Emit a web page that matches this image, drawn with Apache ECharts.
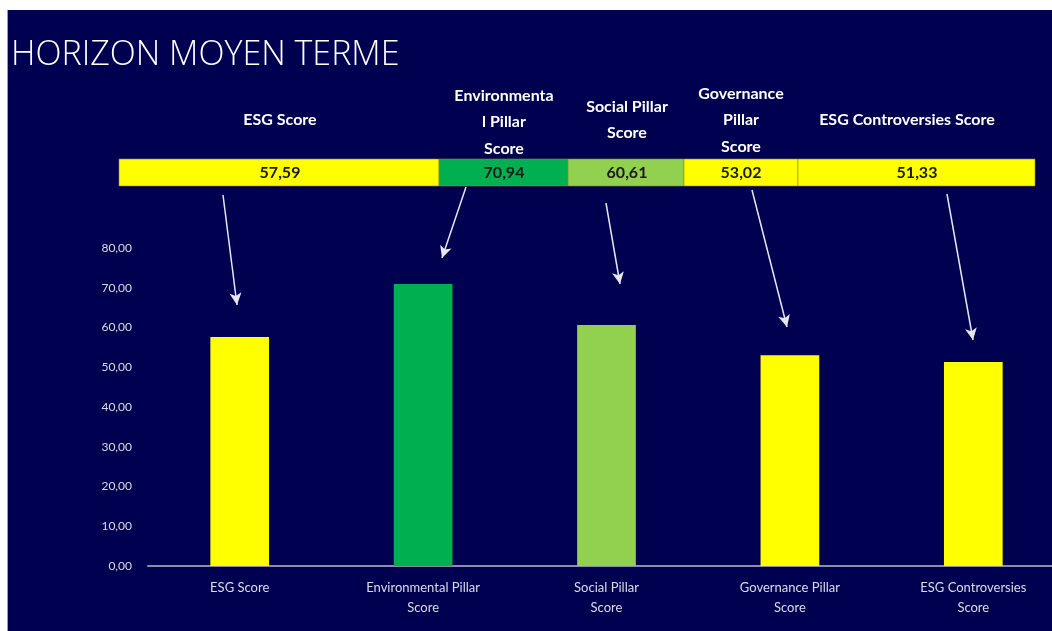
<!DOCTYPE html>
<html>
<head>
<meta charset="utf-8">
<script src="https://cdn.jsdelivr.net/npm/echarts@6/dist/echarts.min.js"></script>
<style>
  html, body { margin: 0; padding: 0; background: #fff; }
  #bg { position: absolute; left: 7px; top: 10px; width: 1045px; height: 621px; background: #000050; border-left: 1px solid #9a9ab0; }
  #main { position: absolute; left: 0; top: 0; width: 1052px; height: 631px; }
</style>
</head>
<body>
<div id="bg"></div>
<div id="main"></div>
<script>
// données
const categories = ['ESG Score', 'Environmental Pillar Score', 'Social Pillar Score', 'Governance Pillar Score', 'ESG Controversies Score'];
const axisLabels = ['ESG Score', 'Environmental Pillar\nScore', 'Social Pillar\nScore', 'Governance Pillar\nScore', 'ESG Controversies\nScore'];
const headerLabels = ['ESG Score', 'Environmenta\nl Pillar\nScore', 'Social Pillar\nScore', 'Governance\nPillar\nScore', 'ESG Controversies Score'];
const values = [57.59, 70.94, 60.61, 53.02, 51.33];
const barColors = ['#FFFF00', '#00B050', '#92D050', '#FFFF00', '#FFFF00'];
const yTicks = [0, 10, 20, 30, 40, 50, 60, 70, 80];

const fmt = v => v.toFixed(2).replace('.', ',');

// tableau du haut (bandeau coloré)
const cells = [
  { x0: 119, x1: 439, hx: 280, hy: 120, vx: 280 },
  { x0: 439, x1: 568, hx: 504, hy: 122, vx: 504 },
  { x0: 568, x1: 684, hx: 627, hy: 120, vx: 627 },
  { x0: 684, x1: 798, hx: 741, hy: 120, vx: 741 },
  { x0: 798, x1: 1035, hx: 907, hy: 120, vx: 917 }
];
const graphics = [{
  type: 'text', left: 11, top: 38,
  style: { text: 'HORIZON MOYEN TERME', fill: '#ffffff', font: '300 34px "Open Sans"' }
}];
cells.forEach((c, i) => {
  graphics.push({
    type: 'rect',
    shape: { x: c.x0, y: 159, width: c.x1 - c.x0, height: 27 },
    style: { fill: barColors[i], stroke: '#8a8a20', lineWidth: 0.6 }
  });
  graphics.push({
    type: 'text', x: c.vx, y: 173,
    style: { text: fmt(values[i]), fill: '#1a1a1a', font: 'bold 16px Lato', textAlign: 'center', textVerticalAlign: 'middle' }
  });
  graphics.push({
    type: 'text', x: c.hx, y: c.hy,
    style: { text: headerLabels[i], fill: '#ffffff', font: 'bold 16px Lato', lineHeight: 26.5, textAlign: 'center', textVerticalAlign: 'middle' }
  });
});

// flèches
const arrows = [
  [[223, 195], [237, 305]],
  [[466, 187], [442, 258]],
  [[606, 203], [620, 284]],
  [[752, 190], [787, 327]],
  [[947, 194], [973, 340]]
];

const myChart = echarts.init(document.getElementById('main'));
const option = {
  backgroundColor: 'transparent',
  animation: false,
  grid: { left: 148, top: 248, width: 917, bottom: 65, outerBoundsMode: 'none', containLabel: false },
  xAxis: {
    type: 'category',
    data: categories,
    axisLine: { lineStyle: { color: '#8c8ca8', width: 2 } },
    axisTick: { show: false },
    axisLabel: {
      formatter: (v, i) => axisLabels[i],
      color: '#dcdce8', fontFamily: 'Lato', fontSize: 13, lineHeight: 20, margin: 12, interval: 0
    }
  },
  yAxis: {
    type: 'value',
    min: 0, max: yTicks[yTicks.length - 1], interval: 10,
    splitLine: { show: false },
    axisLine: { show: false },
    axisTick: { show: false },
    axisLabel: { formatter: fmt, color: '#dcdce8', fontFamily: 'Lato', fontSize: 12, margin: 16 }
  },
  series: [{
    type: 'bar',
    barWidth: '32%',
    data: values.map((v, i) => ({ value: v, itemStyle: { color: barColors[i] } })),
    markLine: {
      silent: true,
      animation: false,
      symbol: ['none', 'arrow'],
      symbolSize: [9, 12],
      label: { show: false },
      lineStyle: { color: '#e6e6f0', width: 1.5, type: 'solid' },
      data: arrows.map(a => [{ x: a[0][0], y: a[0][1] }, { x: a[1][0], y: a[1][1] }])
    }
  }],
  graphic: graphics
};
myChart.setOption(option);
</script>
</body>
</html>
